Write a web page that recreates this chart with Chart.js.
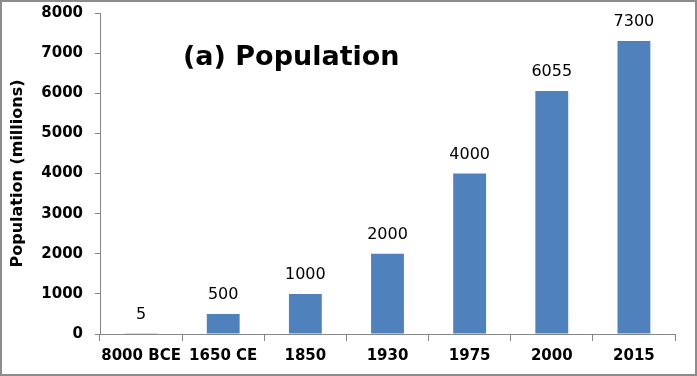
<!DOCTYPE html>
<html lang="en">
<head>
    <meta charset="UTF-8">
    <title>(a) Population</title>
    <script src="https://cdn.jsdelivr.net/npm/chart.js"></script>
    <style>
        html, body { margin: 0; padding: 0; background: #fff; }
        #wrap {
            width: 697px; height: 376px; box-sizing: border-box;
            border: 2px solid #8c8c8c; position: relative;
        }
    </style>
</head>
<body>
    <div id="wrap"><canvas id="myChart"></canvas></div>

    <script>
        // data
        const years = ['8000 BCE', '1650 CE', '1850', '1930', '1975', '2000', '2015'];
        const population = [5, 500, 1000, 2000, 4000, 6055, 7300];
        const yTicks = [0, 1000, 2000, 3000, 4000, 5000, 6000, 7000, 8000];

        const FONT = "'DejaVu Sans', sans-serif";
        const axisGrey = '#868686';

        // value labels above each bar
        const barLabels = {
            id: 'barLabels',
            afterDatasetsDraw(chart) {
                const ctx = chart.ctx;
                const meta = chart.getDatasetMeta(0);
                ctx.save();
                ctx.font = '16px ' + FONT;
                ctx.fillStyle = '#000';
                ctx.textAlign = 'center';
                ctx.textBaseline = 'alphabetic';
                meta.data.forEach((bar, i) => {
                    ctx.fillText(String(population[i]), bar.x, bar.y - 15);
                });
                ctx.restore();
            }
        };

        // big title sitting inside the plot
        const innerTitle = {
            id: 'innerTitle',
            afterDraw(chart) {
                const ctx = chart.ctx;
                const a = chart.chartArea;
                ctx.save();
                ctx.font = 'bold 27px ' + FONT;
                ctx.fillStyle = '#000';
                ctx.textAlign = 'left';
                ctx.textBaseline = 'alphabetic';
                ctx.fillText('(a) Population', a.left + 83, a.top + 52);
                ctx.restore();
            }
        };

        const ctx = document.getElementById('myChart').getContext('2d');
        const myChart = new Chart(ctx, {
            type: 'bar',
            data: {
                labels: years,
                datasets: [{
                    data: population,
                    backgroundColor: '#4f81bd',
                    categoryPercentage: 1,
                    barPercentage: 0.4
                }]
            },
            options: {
                responsive: true,
                maintainAspectRatio: false,
                animation: false,
                layout: { padding: { top: 11, right: 20, left: 6, bottom: 0 } },
                plugins: {
                    legend: { display: false },
                    tooltip: { enabled: false }
                },
                scales: {
                    x: {
                        grid: {
                            drawOnChartArea: false,
                            color: axisGrey,
                            tickLength: 7,
                            offset: true
                        },
                        border: { color: axisGrey },
                        ticks: {
                            color: '#000',
                            font: { family: FONT, size: 15, weight: 'bold' },
                            padding: 6,
                            maxRotation: 0,
                            autoSkip: false
                        },
                        afterFit(scale) { scale.height = 40; }
                    },
                    y: {
                        min: 0,
                        max: 8000,
                        afterBuildTicks(scale) {
                            scale.ticks = yTicks.map(v => ({ value: v }));
                        },
                        grid: {
                            drawOnChartArea: false,
                            color: axisGrey,
                            tickLength: 5
                        },
                        border: { color: axisGrey },
                        ticks: {
                            color: '#000',
                            font: { family: FONT, size: 15, weight: 'bold' },
                            padding: 12,
                            callback: v => String(v)
                        },
                        title: {
                            display: true,
                            text: 'Population (millions)',
                            color: '#000',
                            font: { family: FONT, size: 16, weight: 'bold' },
                            padding: { top: 0, bottom: 0 }
                        },
                        afterFit(scale) {
                            scale.width = 92;
                            scale.paddingTop = 0;
                            scale.paddingBottom = 0;
                        }
                    }
                }
            },
            plugins: [barLabels, innerTitle]
        });
    </script>
</body>
</html>
